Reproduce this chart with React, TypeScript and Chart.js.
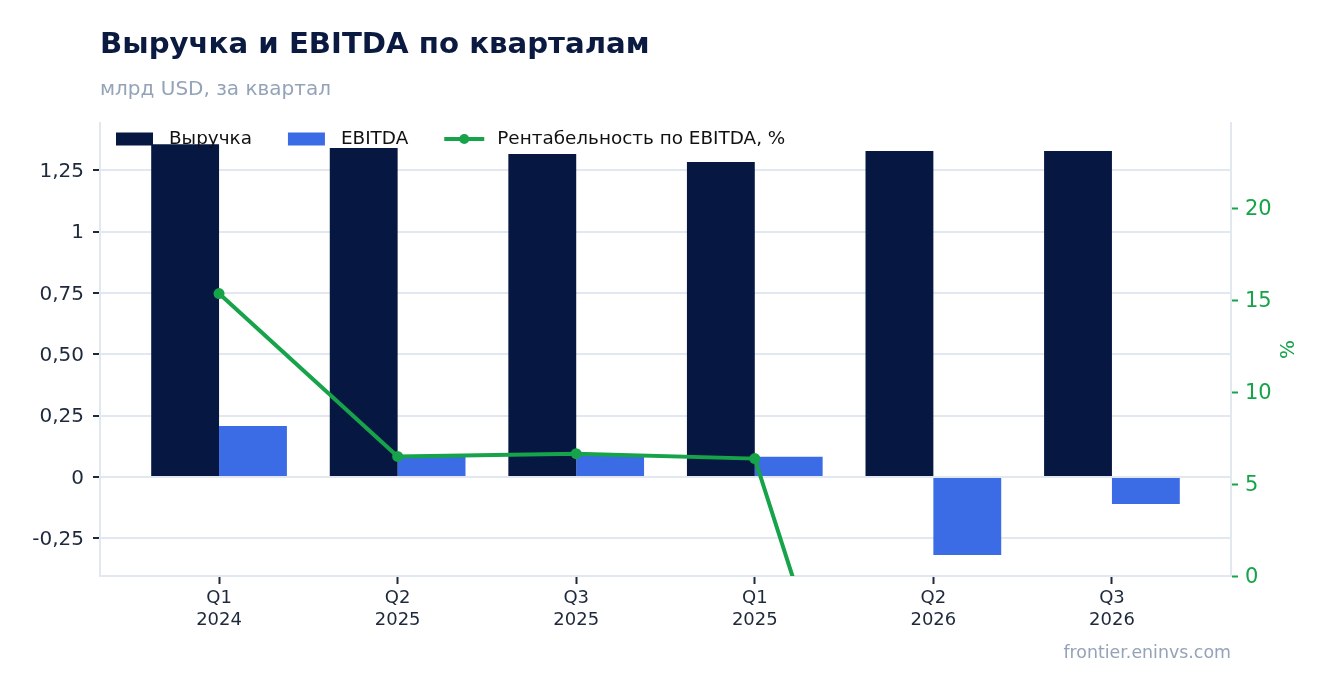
import React, { useEffect, useRef } from 'react';
import { Chart, registerables } from 'chart.js';

Chart.register(...registerables);

// ---- data ----
const quarterLabels = ['Q1', 'Q2', 'Q3', 'Q1', 'Q2', 'Q3'];
const yearLabels = ['2024', '2025', '2025', '2025', '2026', '2026'];
const revenue = [1.356, 1.341, 1.317, 1.284, 1.329, 1.329];
const ebitda = [0.208, 0.083, 0.09, 0.082, -0.318, -0.11];
const marginPct = [15.35, 6.5, 6.65, 6.38, -23.9, -8.3];
const seriesNames = ['Выручка', 'EBITDA', 'Рентабельность по EBITDA, %'];

const TITLE = 'Выручка и EBITDA по кварталам';
const SUBTITLE = 'млрд USD, за квартал';
const SOURCE = 'frontier.eninvs.com';

// ---- style ----
const NAVY = '#061741';
const BLUE = '#3B6CE6';
const GREEN = '#16A34A';
const GRID = '#E2E8F0';
const TEXT = '#1E293B';
const MUTED = '#94A3B8';
const FONT = '"DejaVu Sans", sans-serif';

const fmtLeft = (v: number) => {
  if (Math.abs(v - Math.round(v)) < 1e-9) return String(Math.round(v));
  return v.toFixed(2).replace('.', ',');
};

const overlayPlugin = {
  id: 'overlay',
  afterDatasetsDraw(chart: any) {
    const ctx = chart.ctx;
    const area = chart.chartArea;
    const cy = area.top + 16;
    let x = area.left + 16;
    ctx.save();
    ctx.font = `18.4px ${FONT}`;
    ctx.textBaseline = 'middle';
    ctx.textAlign = 'left';
    const items = [
      { label: seriesNames[0], color: NAVY, kind: 'box' },
      { label: seriesNames[1], color: BLUE, kind: 'box' },
      { label: seriesNames[2], color: GREEN, kind: 'line' },
    ];
    items.forEach((it) => {
      if (it.kind === 'box') {
        ctx.fillStyle = it.color;
        ctx.fillRect(x, cy - 6.5, 37, 13);
      } else {
        ctx.strokeStyle = it.color;
        ctx.lineWidth = 4;
        ctx.beginPath();
        ctx.moveTo(x, cy);
        ctx.lineTo(x + 40, cy);
        ctx.stroke();
        ctx.fillStyle = it.color;
        ctx.beginPath();
        ctx.arc(x + 20, cy, 5, 0, Math.PI * 2);
        ctx.fill();
      }
      ctx.fillStyle = '#111111';
      const tx = x + 53;
      ctx.fillText(it.label, tx, cy + 0.5);
      x = tx + ctx.measureText(it.label).width + 36;
    });
    // right axis title
    ctx.translate(area.right + 58, (area.top + area.bottom) / 2);
    ctx.rotate(-Math.PI / 2);
    ctx.textAlign = 'center';
    ctx.fillStyle = GREEN;
    ctx.font = `20px ${FONT}`;
    ctx.fillText('%', 0, 0);
    ctx.restore();
  },
};

export default function App() {
  const ref = useRef<HTMLCanvasElement | null>(null);

  useEffect(() => {
    if (!ref.current) return;
    const chart = new Chart(ref.current, {
      type: 'bar',
      data: {
        datasets: [
          {
            type: 'line',
            label: seriesNames[2],
            data: marginPct.map((v, i) => ({ x: i, y: v })),
            yAxisID: 'y2',
            borderColor: GREEN,
            backgroundColor: GREEN,
            borderWidth: 4,
            pointRadius: 5.5,
            pointHoverRadius: 5.5,
            pointBackgroundColor: GREEN,
            pointBorderWidth: 0,
            tension: 0,
            clip: 0,
            order: 0,
          } as any,
          {
            type: 'bar',
            label: seriesNames[0],
            data: revenue.map((v, i) => ({ x: i, y: v })),
            yAxisID: 'y',
            backgroundColor: NAVY,
            borderWidth: 0,
            categoryPercentage: 0.76,
            barPercentage: 1,
            order: 1,
          } as any,
          {
            type: 'bar',
            label: seriesNames[1],
            data: ebitda.map((v, i) => ({ x: i, y: v })),
            yAxisID: 'y',
            backgroundColor: BLUE,
            borderWidth: 0,
            categoryPercentage: 0.76,
            barPercentage: 1,
            order: 1,
          } as any,
        ],
      },
      options: {
        responsive: false,
        animation: false,
        events: [],
        layout: { padding: { top: 123, left: 0, right: 0, bottom: 0 } },
        plugins: {
          legend: { display: false },
          tooltip: { enabled: false },
          title: { display: false },
        },
        scales: {
          x: {
            type: 'linear',
            offset: false,
            min: -0.6667,
            max: 5.6667,
            grid: {
              offset: false,
              drawOnChartArea: false,
              drawTicks: true,
              tickLength: 8,
              tickColor: TEXT,
              tickWidth: 2,
            },
            border: { display: true, color: GRID, width: 2 },
            ticks: {
              stepSize: 1,
              includeBounds: false,
              autoSkip: false,
              maxRotation: 0,
              minRotation: 0,
              padding: 4,
              color: TEXT,
              font: { family: FONT, size: 18, lineHeight: 1.2 },
              callback: (v: any) => {
                const i = Math.round(Number(v));
                if (Math.abs(Number(v) - i) > 1e-6 || i < 0 || i >= quarterLabels.length) return '';
                return [quarterLabels[i], yearLabels[i]];
              },
            },
            afterFit: (axis: any) => {
              axis.height = 117;
            },
          },
          y: {
            type: 'linear',
            position: 'left',
            min: -0.4036,
            max: 1.443,
            grid: {
              color: GRID,
              lineWidth: 2,
              tickColor: TEXT,
              tickLength: 7,
              tickWidth: 2,
            },
            border: { display: true, color: GRID, width: 2 },
            ticks: {
              stepSize: 0.25,
              includeBounds: false,
              padding: 9,
              labelOffset: 1.5,
              color: TEXT,
              font: { family: FONT, size: 20 },
              callback: (v: any) => fmtLeft(Number(v)),
            },
            afterFit: (axis: any) => {
              axis.width = 100;
            },
          },
          y2: {
            type: 'linear',
            position: 'right',
            min: 0,
            max: 24.62,
            grid: {
              drawOnChartArea: false,
              tickColor: GREEN,
              tickLength: 7,
              tickWidth: 2,
            },
            border: { display: true, color: GRID, width: 2 },
            ticks: {
              stepSize: 5,
              includeBounds: false,
              padding: 7,
              labelOffset: 1.5,
              color: GREEN,
              font: { family: FONT, size: 21 },
            },
            afterFit: (axis: any) => {
              axis.width = 99;
            },
          },
        },
      } as any,
      plugins: [overlayPlugin],
    });
    return () => chart.destroy();
  }, []);

  return (
    <div
      style={{
        position: 'fixed',
        left: 0,
        top: 0,
        width: 1330,
        height: 693,
        background: '#ffffff',
        overflow: 'hidden',
        fontFamily: FONT,
      }}
    >
      <canvas
        ref={ref}
        width={1330}
        height={693}
        style={{ position: 'absolute', left: 0, top: 0, width: 1330, height: 693 }}
      />
      <div
        style={{
          position: 'absolute',
          left: 100,
          top: 28.6,
          fontSize: 29.2,
          lineHeight: '29.2px',
          fontWeight: 'bold',
          color: '#0A1A40',
          whiteSpace: 'nowrap',
        }}
      >
        {TITLE}
      </div>
      <div
        style={{
          position: 'absolute',
          left: 100,
          top: 78,
          fontSize: 20,
          lineHeight: '20px',
          color: MUTED,
          whiteSpace: 'nowrap',
        }}
      >
        {SUBTITLE}
      </div>
      <div
        style={{
          position: 'absolute',
          right: 99,
          top: 643.5,
          fontSize: 17.4,
          lineHeight: '17.4px',
          color: MUTED,
          whiteSpace: 'nowrap',
        }}
      >
        {SOURCE}
      </div>
    </div>
  );
}
